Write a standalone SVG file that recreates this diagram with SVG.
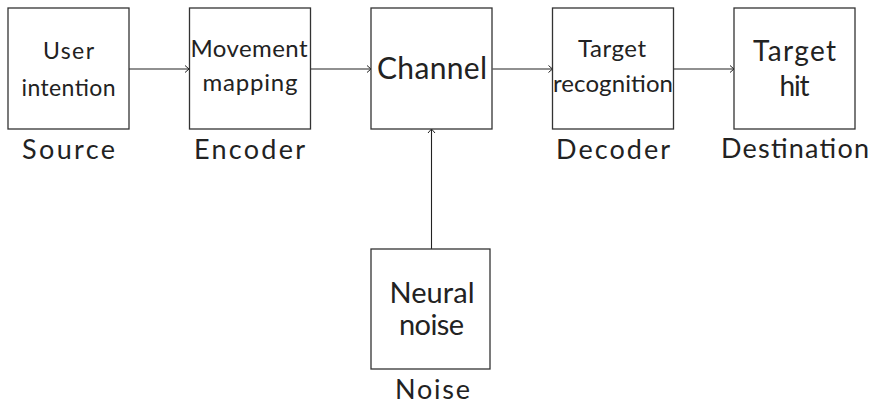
<svg xmlns="http://www.w3.org/2000/svg" width="872" height="404" viewBox="0 0 872 404">
<style>
.box{fill:#fff;stroke:#333;stroke-width:1.3}
.t{font-family:Lato,"Open Sans",sans-serif;fill:#222;text-anchor:middle}
.c{fill:none;stroke:#222;stroke-width:1.1}
</style>
<defs>
<marker id="ah" viewBox="-6 -5 8 10" markerWidth="8" markerHeight="10" refX="0" refY="0" orient="auto" markerUnits="userSpaceOnUse">
<path d="M-4,-3.5 L0,0 L-4,3.5" fill="none" stroke="#222" stroke-width="1"/>
</marker>
</defs>
<g id="connectors">
<line class="c" x1="129" y1="69" x2="189" y2="69" marker-end="url(#ah)"/>
<line class="c" x1="310.5" y1="69" x2="371" y2="69" marker-end="url(#ah)"/>
<line class="c" x1="492.5" y1="69" x2="552.5" y2="69" marker-end="url(#ah)"/>
<line class="c" x1="674" y1="69" x2="734" y2="69" marker-end="url(#ah)"/>
<line class="c" x1="431.5" y1="249" x2="431.5" y2="129" marker-end="url(#ah)"/>
</g>
<g id="source">
<rect class="box" x="8" y="8" width="121" height="121"/>
<text class="t" x="68.5" y="59" font-size="23" textLength="51" lengthAdjust="spacing">User</text>
<text class="t" x="68.5" y="96" font-size="23" textLength="94" lengthAdjust="spacing">intention</text>
<text class="t" x="68.5" y="159" font-size="27" textLength="93" lengthAdjust="spacing">Source</text>
</g>
<g id="encoder">
<rect class="box" x="189.5" y="8" width="121" height="121"/>
<text class="t" x="249" y="57" font-size="24" textLength="117" lengthAdjust="spacing">Movement</text>
<text class="t" x="250" y="91" font-size="24" textLength="95" lengthAdjust="spacing">mapping</text>
<text class="t" x="249.5" y="159" font-size="27" textLength="111" lengthAdjust="spacing">Encoder</text>
</g>
<g id="channel">
<rect class="box" x="371" y="8" width="121" height="121"/>
<text class="t" x="432" y="79" font-size="30" textLength="110" lengthAdjust="spacing">Channel</text>
</g>
<g id="decoder">
<rect class="box" x="552.5" y="8" width="121" height="121"/>
<text class="t" x="612" y="57" font-size="24" textLength="68" lengthAdjust="spacing">Target</text>
<text class="t" x="613" y="92" font-size="24" textLength="120" lengthAdjust="spacing">recognition</text>
<text class="t" x="613" y="159" font-size="27" textLength="114" lengthAdjust="spacing">Decoder</text>
</g>
<g id="destination">
<rect class="box" x="734" y="8" width="121" height="121"/>
<text class="t" x="794.5" y="61" font-size="28" textLength="83" lengthAdjust="spacing">Target</text>
<text class="t" x="794.5" y="96" font-size="28" textLength="30" lengthAdjust="spacing">hit</text>
<text class="t" x="795" y="158" font-size="27" textLength="148" lengthAdjust="spacing">Destination</text>
</g>
<g id="noise">
<rect class="box" x="371" y="249" width="119" height="120"/>
<text class="t" x="432" y="303" font-size="29" textLength="85" lengthAdjust="spacing">Neural</text>
<text class="t" x="431.5" y="335" font-size="29" textLength="65" lengthAdjust="spacing">noise</text>
<text class="t" x="432.5" y="399" font-size="27" textLength="75" lengthAdjust="spacing">Noise</text>
</g>
</svg>
